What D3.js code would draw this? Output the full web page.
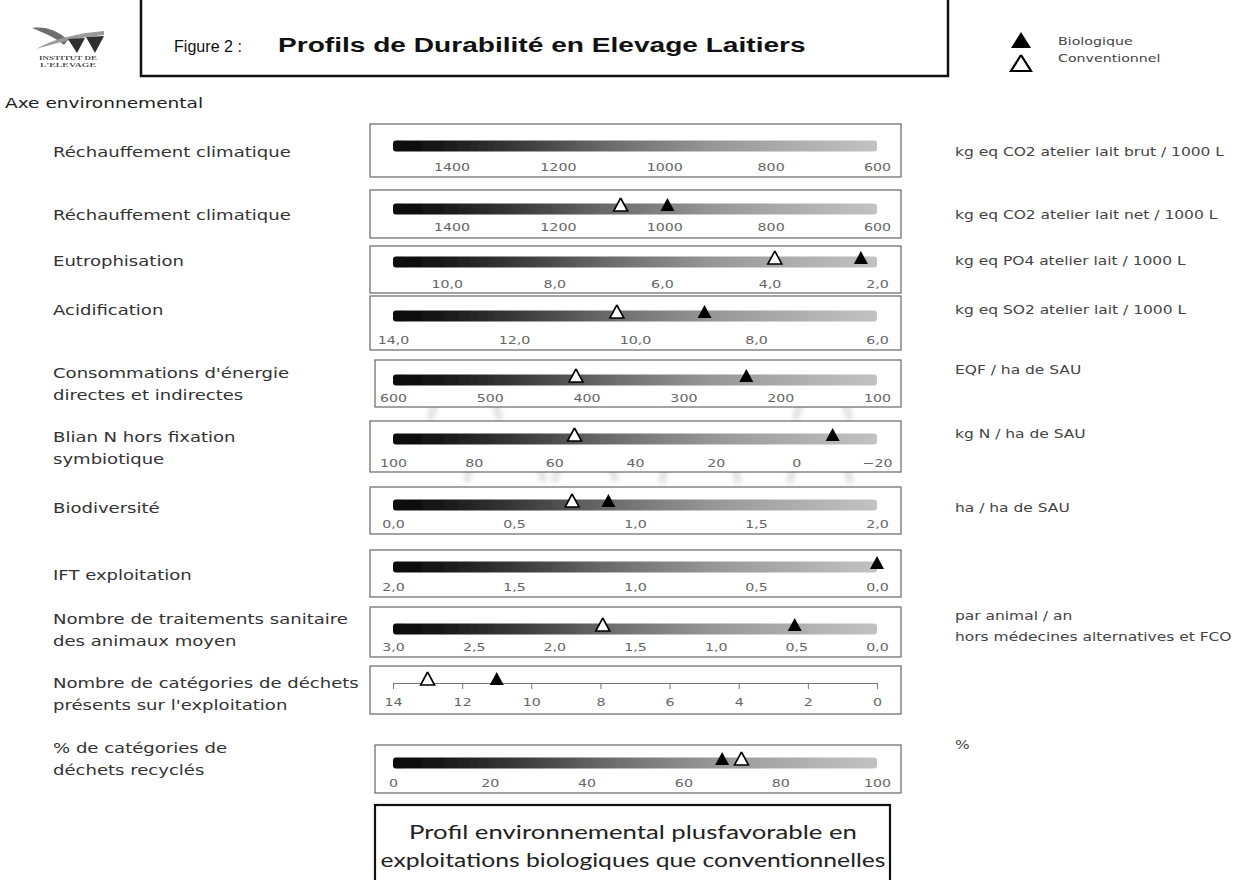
<!DOCTYPE html>
<html><head><meta charset="utf-8">
<script src="https://cdn.jsdelivr.net/npm/d3@7/dist/d3.min.js"></script>
<style>
html,body{margin:0;padding:0;background:#fff;}
svg{display:block;}
</style></head>
<body>
<svg id="chart" width="1243" height="880"></svg>
<script>
// ---------------- DATA ----------------
const indicators = [
  ["Réchauffement climatique"],
  ["Réchauffement climatique"],
  ["Eutrophisation"],
  ["Acidification"],
  ["Consommations d'énergie", "directes et indirectes"],
  ["Blian N hors fixation", "symbiotique"],
  ["Biodiversité"],
  ["IFT exploitation"],
  ["Nombre de traitements sanitaire", "des animaux moyen"],
  ["Nombre de catégories de déchets", "présents sur l'exploitation"],
  ["% de catégories de", "déchets recyclés"]
];
const units = [
  ["kg eq CO2 atelier lait brut / 1000 L"],
  ["kg eq CO2 atelier lait net / 1000 L"],
  ["kg eq PO4 atelier lait / 1000 L"],
  ["kg eq SO2 atelier lait / 1000 L"],
  ["EQF / ha de SAU"],
  ["kg N / ha de SAU"],
  ["ha / ha de SAU"],
  [],
  ["par animal / an", "hors médecines alternatives et FCO"],
  [],
  ["%"]
];
const axisStart = [1510, 1510, 11, 14, 600, 100, 0, 2, 3, 14, 0];
const axisEnd   = [600, 600, 2, 6, 100, -20, 2, 0, 0, 0, 100];
const tickValues = [
  [1400, 1200, 1000, 800, 600],
  [1400, 1200, 1000, 800, 600],
  [10, 8, 6, 4, 2],
  [14, 12, 10, 8, 6],
  [600, 500, 400, 300, 200, 100],
  [100, 80, 60, 40, 20, 0, -20],
  [0, 0.5, 1, 1.5, 2],
  [2, 1.5, 1, 0.5, 0],
  [3, 2.5, 2, 1.5, 1, 0.5, 0],
  [14, 12, 10, 8, 6, 4, 2, 0],
  [0, 20, 40, 60, 80, 100]
];
const tickDecimals = [0, 0, 1, 1, 0, 0, 1, 1, 1, 0, 0];
const bioValues  = [null, 994, 2.3, 8.85, 235, -9, 0.89, 0.0, 0.51, 11, 68];
const convValues = [null, 1082, 3.9, 10.3, 411, 55, 0.74, null, 1.70, 13, 72];
const seriesNames = ["Biologique", "Conventionnel"];
const figureLabel = "Figure 2 :";
const title = "Profils de Durabilité en Elevage Laitiers";
const sectionTitle = "Axe environnemental";
const logoText = ["INSTITUT DE", "L'ELEVAGE"];
const conclusion = ["Profil environnemental plusfavorable en", "exploitations biologiques que conventionnelles"];

// ---------------- LAYOUT ----------------
const layout = {
  boxTop:    [124, 190, 246, 296, 360, 421, 487, 550, 607, 666, 745],
  boxBottom: [177, 238, 293, 350, 407, 472, 534, 597, 657, 714, 793],
  boxLeft:   [370, 370, 370, 370, 375, 370, 370, 370, 370, 370, 375],
  barY:      [146, 209, 262, 316, 380, 439, 505, 567, 629, 683, 763],
  tickY:     [171, 231, 288, 344, 402, 467, 528, 591, 651, 706, 787],
  labelY:    [157, 220, 266, 315, 378, 442, 513, 580, 624, 688, 753],
  lineOnly:  [false, false, false, false, false, false, false, false, false, true, false]
};
const boxRight = 901, x0 = 393, x1 = 877;
const SX = 1.29; // horizontal stretch of the original picture's text

const svg = d3.select("#chart");
const fr = d3.formatLocale({decimal: ",", thousands: "", grouping: [3], currency: ["", "€"]});

function txt(parent, x, y, s, o) {
  const t = parent.append("text")
    .attr("transform", `translate(${x},${y}) scale(${o.sx || SX},1)`)
    .attr("font-family", o.family || "DejaVu Sans")
    .attr("font-size", o.size)
    .attr("font-weight", o.weight || "normal")
    .attr("fill", o.fill || "#333")
    .attr("text-anchor", o.anchor || "start")
    .text(s);
  if (o.width) {
    const w = t.node().getComputedTextLength();
    t.attr("transform", `translate(${x},${y}) scale(${o.width / w},1)`);
  }
  return t;
}

// gradient
const defs = svg.append("defs");
const grad = defs.append("linearGradient").attr("id", "barGrad").attr("x1", "0%").attr("x2", "100%");
[[0, "#0a0a0a"], [0.08, "#141414"], [0.25, "#383838"], [0.45, "#6c6c6c"], [0.65, "#959595"], [0.85, "#b0b0b0"], [1, "#c2c2c2"]]
  .forEach(([o, c]) => grad.append("stop").attr("offset", o).attr("stop-color", c));
const blur = defs.append("filter").attr("id", "soft").attr("x", "-10%").attr("y", "-30%").attr("width", "120%").attr("height", "160%");
blur.append("feGaussianBlur").attr("stdDeviation", 0.5);
const blur2 = defs.append("filter").attr("id", "wmblur").attr("x", "-20%").attr("y", "-20%").attr("width", "140%").attr("height", "140%");
blur2.append("feGaussianBlur").attr("stdDeviation", 2.5);

// faint watermark shapes (background of the original scan)
const wm = svg.append("g").attr("opacity", 0.35).attr("fill", "none").attr("stroke", "#a8a8a8").attr("stroke-width", 7).attr("filter", "url(#wmblur)");
[[505, 482, 38], [585, 482, 30], [700, 484, 38], [820, 484, 30]].forEach(([cx, cy, r]) => {
  wm.append("path").attr("d", d3.arc()({innerRadius: r, outerRadius: r, startAngle: -Math.PI / 2, endAngle: Math.PI / 2}))
    .attr("transform", `translate(${cx},${cy})`);
});
[[435, 404, 430, 420], [495, 404, 500, 420], [800, 404, 795, 420], [845, 404, 850, 420]].forEach(([a, b, c, d]) => {
  wm.append("line").attr("x1", a).attr("y1", b).attr("x2", c).attr("y2", d);
});

// ---------- header ----------
const logo = svg.append("g").attr("filter", "url(#soft)");
logo.append("path").attr("d", "M32,28 C46,26 58,31 68,40 L64,45 C55,37 44,33 32,28 Z").attr("fill", "#6e6e6e");
logo.append("path").attr("d", "M36,49 C55,38 80,33 104,31 L104,35 C82,37 58,42 36,49 Z").attr("fill", "#9a9a9a");
logo.append("path").attr("d", "M68,39 L85,38 L77,53 Z").attr("fill", "#2e2e2e");
logo.append("path").attr("d", "M86,37 L104,36 L95,53 Z").attr("fill", "#2e2e2e");
txt(logo, 68, 60, logoText[0], {family: "Liberation Serif", size: 6.5, weight: "bold", fill: "#555", anchor: "middle", width: 58});
txt(logo, 68, 67, logoText[1], {family: "Liberation Serif", size: 6.5, weight: "bold", fill: "#555", anchor: "middle", width: 56});

svg.append("path").attr("d", "M141,0 V76 H948 V0").attr("fill", "none").attr("stroke", "#111").attr("stroke-width", 2.5);
txt(svg, 174, 52, figureLabel, {family: "Liberation Sans", size: 17, fill: "#111", width: 68});
txt(svg, 278, 52, title, {family: "Liberation Sans", size: 20, weight: "bold", fill: "#111", width: 528});

// legend
const tri = (cx, base, w, h) => d3.line()([[cx, base - h], [cx + w / 2, base], [cx - w / 2, base], [cx, base - h]]);
svg.append("path").attr("d", tri(1021, 48, 20, 16)).attr("fill", "#000");
svg.append("path").attr("d", tri(1021, 71, 20, 16)).attr("fill", "#fff").attr("stroke", "#000").attr("stroke-width", 2.2);
txt(svg, 1058, 45, seriesNames[0], {size: 11, fill: "#444"});
txt(svg, 1058, 62, seriesNames[1], {size: 11, fill: "#444"});

txt(svg, 5, 108, sectionTitle, {size: 14, fill: "#222", width: 198});

// ---------- rows ----------
indicators.forEach((lines, i) => {
  const g = svg.append("g");
  const x = d3.scaleLinear().domain([axisStart[i], axisEnd[i]]).range([x0, x1]);
  lines.forEach((t, k) => txt(g, 53, layout.labelY[i] + k * 22, t, {size: 14, fill: "#333"}));
  units[i].forEach((t, k) => txt(g, 955, layout.labelY[i] + k * 21 - (lines.length > 1 ? 4 : 1), t, {size: 12, fill: "#444"}));
  g.append("rect").attr("x", layout.boxLeft[i]).attr("y", layout.boxTop[i])
    .attr("width", boxRight - layout.boxLeft[i]).attr("height", layout.boxBottom[i] - layout.boxTop[i])
    .attr("fill", "#fff").attr("stroke", "#666").attr("stroke-width", 1.2);
  const by = layout.barY[i];
  if (!layout.lineOnly[i]) {
    g.append("rect").attr("x", x(axisStart[i])).attr("y", by - 5.5)
      .attr("width", x(axisEnd[i]) - x(axisStart[i])).attr("height", 11).attr("rx", 3)
      .attr("fill", "url(#barGrad)").attr("filter", "url(#soft)");
  }
  const fmt = fr.format("." + tickDecimals[i] + "f");
  const ax = d3.axisBottom(x).tickValues(tickValues[i]).tickFormat(fmt)
    .tickSize(layout.lineOnly[i] ? 6 : 0).tickPadding(0);
  const ag = g.append("g").attr("transform", `translate(0,${by})`).call(ax);
  ag.select(".domain").attr("stroke", "#777").attr("stroke-width", 1).style("display", layout.lineOnly[i] ? null : "none");
  ag.selectAll(".tick line").attr("stroke", "#777");
  ag.selectAll(".tick text").attr("y", 0).attr("dy", 0)
    .attr("transform", `translate(0,${layout.tickY[i] - by}) scale(${SX},1)`)
    .attr("font-family", "DejaVu Sans").attr("font-size", 11).attr("fill", "#666");
  const base = by + 2;
  if (convValues[i] !== null) {
    g.append("path").attr("d", tri(x(convValues[i]), base, 14, 13)).attr("fill", "#fff").attr("stroke", "#000").attr("stroke-width", 1.6);
  }
  if (bioValues[i] !== null) {
    g.append("path").attr("d", tri(x(bioValues[i]), base, 14, 13)).attr("fill", "#000");
  }
});

// ---------- conclusion box ----------
svg.append("rect").attr("x", 375).attr("y", 805).attr("width", 515).attr("height", 90)
  .attr("fill", "#fff").attr("stroke", "#111").attr("stroke-width", 2.2);
txt(svg, 633, 839, conclusion[0], {family: "Lato, Open Sans", size: 20, fill: "#222", anchor: "middle", width: 448});
txt(svg, 633, 867, conclusion[1], {family: "Lato, Open Sans", size: 20, fill: "#222", anchor: "middle", width: 505});
</script>
</body></html>
